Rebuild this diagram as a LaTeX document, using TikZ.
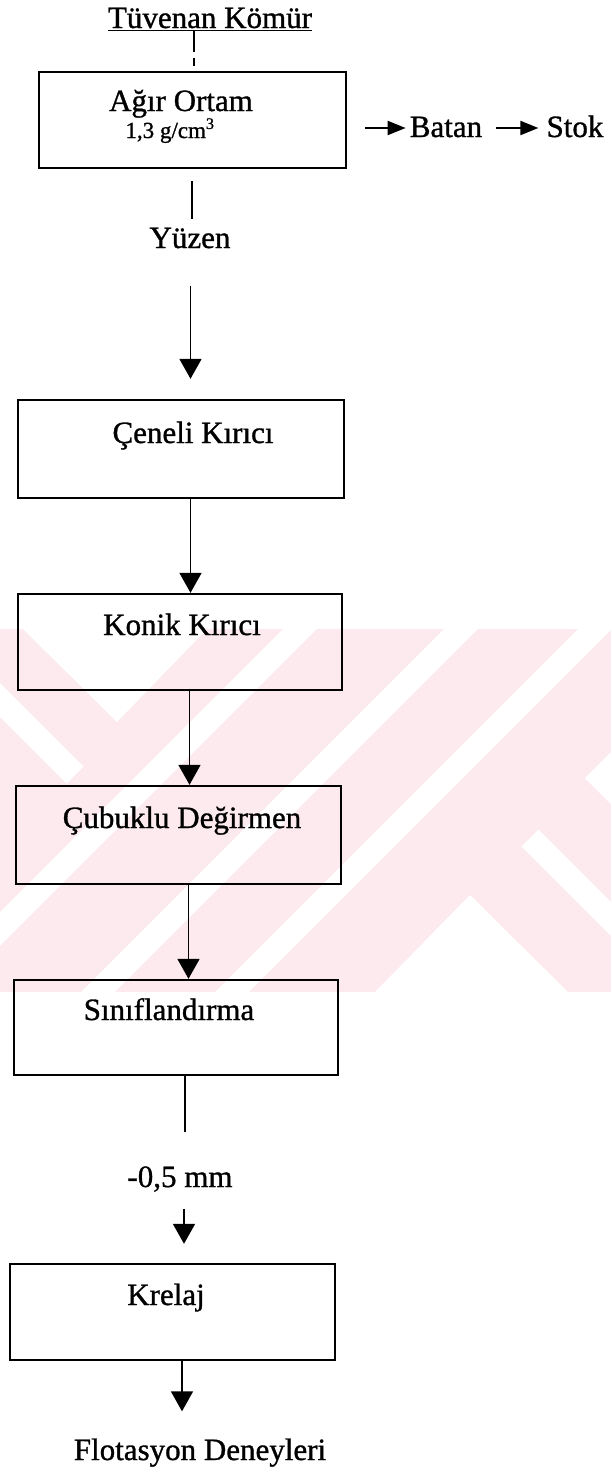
\documentclass[tikz,border=0pt]{standalone}
\usepackage{fontspec}
\setmainfont{Liberation Serif}[FakeBold=1]
\usetikzlibrary{arrows.meta}
\definecolor{wm}{RGB}{253,234,239}
\begin{document}
\begin{tikzpicture}[x=1pt,y=-1pt,
  box/.style={draw, line width=2.4pt, inner sep=0pt},
  lbl/.style={inner sep=0pt, anchor=base, font=\fontsize{31}{36}\selectfont},
  slbl/.style={inner sep=0pt, anchor=base, font=\fontsize{23}{28}\selectfont},
  conn/.style={line width=1.8pt},
  arr/.style={conn, -{Triangle[length=20pt,width=22pt]}},
  sarr/.style={line width=2pt, -{Triangle[length=18pt,width=14pt]}},
  wmstripe/.style={white, line width=24pt},
]
\useasboundingbox (0,0) rectangle (611,1481);
% watermark
\begin{scope}
\clip (0,629) rectangle (611,992);
\fill[wm] (0,629) rectangle (611,992);
\fill[white] (23,629) -- (207,629) -- (117,722) -- cycle;
\fill[white] (470,895) -- (375,992) -- (568,992) -- cycle;
\fill[white] (585,778) -- (630,733) -- (630,823) -- cycle;
\draw[wmstripe] (-20,680) -- (75,775);
\draw[wmstripe] (530,838) -- (640,948);
\draw[wmstripe] (471,619) -- (85,1005);
\draw[wmstripe] (605,619) -- (219,1005);
\draw[wmstripe] (310,619) -- (-10,939);
\end{scope}
% coordinates for connector columns
\coordinate (x0) at (194,0);
\coordinate (x1) at (192,0);
\coordinate (x2) at (190.5,0);
\coordinate (x3) at (189.5,0);
\coordinate (x4) at (188.5,0);
\coordinate (x5) at (185,0);
\coordinate (x6) at (184,0);
\coordinate (x7) at (182,0);
\coordinate (ay) at (0,128);
% title
\node[lbl] (t0) at (210,28) {\underline{Tüvenan Kömür}};
% boxes
\node[box, minimum width=307pt, minimum height=96pt] (b1) at (192.5,120) {};
\node[box, minimum width=326pt, minimum height=98pt] (b2) at (181,449) {};
\node[box, minimum width=324pt, minimum height=96pt] (b3) at (180,642) {};
\node[box, minimum width=325pt, minimum height=98pt] (b4) at (178.5,835) {};
\node[box, minimum width=324pt, minimum height=95pt] (b5) at (176,1027.5) {};
\node[box, minimum width=325pt, minimum height=96pt] (b6) at (172.5,1312) {};
% texts
\node[lbl] (l1) at (181,111) {Ağır Ortam};
\node[slbl] (l1b) at (170,138) {1,3 g/cm\textsuperscript{3}};
\node[lbl] (batan) at (446,137) {Batan};
\node[lbl] (stok) at (575,137) {Stok};
\node[lbl] (yz) at (190,248) {Yüzen};
\node[lbl] (l2) at (193,443) {Çeneli Kırıcı};
\node[lbl] (l3) at (182,635) {Konik Kırıcı};
\node[lbl] (l4) at (182,828) {Çubuklu Değirmen};
\node[lbl] (l5) at (169,1020) {Sınıflandırma};
\node[lbl] (m05) at (180,1187) {-0,5 mm};
\node[lbl] (l6) at (166,1305) {Krelaj};
\node[lbl] (flot) at (200,1460) {Flotasyon Deneyleri};
% connectors
\draw[conn, dash pattern=on 21pt off 6pt on 8pt] (t0.south -| x0) -- (b1.north -| x0);
\draw[conn, shorten <=12pt, shorten >=9pt] (b1.south -| x1) -- (yz.north -| x1);
\draw[arr, shorten <=37pt, shorten >=20pt] (yz.south -| x2) -- (b2.north -| x2);
\draw[arr] (b2.south -| x2) -- (b3.north -| x2);
\draw[arr] (b3.south -| x3) -- (b4.north -| x3);
\draw[arr] (b4.south -| x4) -- (b5.north -| x4);
\draw[conn, shorten >=34pt] (b5.south -| x5) -- (m05.north -| x5);
\draw[arr, shorten <=17pt, shorten >=19pt] (m05.south -| x6) -- (b6.north -| x6);
\draw[arr, shorten >=27pt] (b6.south -| x7) -- (flot.north -| x7);
\draw[sarr, shorten <=18pt, shorten >=4pt] (b1.east |- ay) -- (batan.west |- ay);
\draw[sarr, shorten <=14pt, shorten >=8pt] (batan.east |- ay) -- (stok.west |- ay);
\end{tikzpicture}
\end{document}
